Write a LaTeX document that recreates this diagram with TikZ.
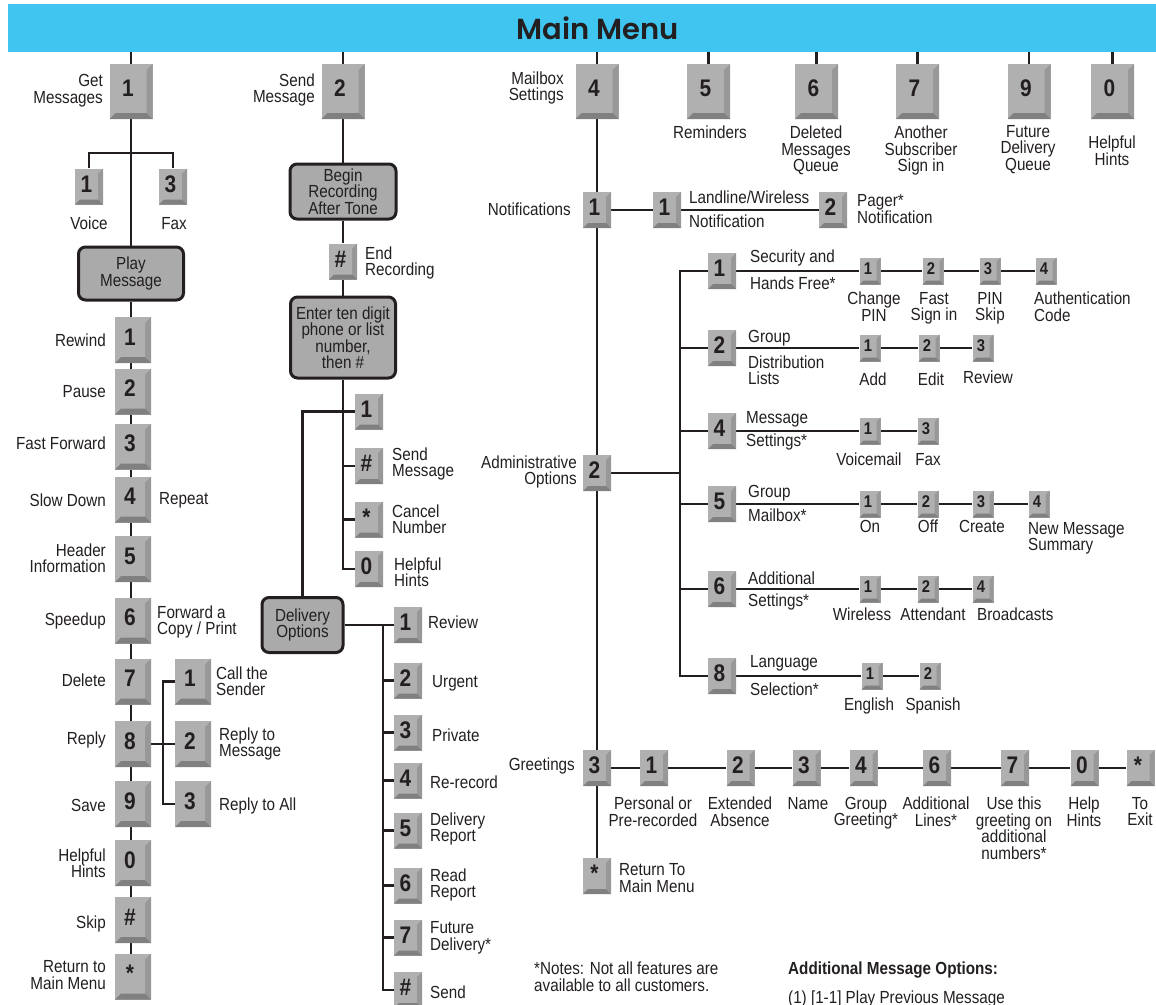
\documentclass[tikz,border=0pt]{standalone}
\usepackage{fontspec}
\setmainfont{Liberation Sans}[FakeStretch=0.87]
\newfontfamily\titlefont{Poppins}[BoldFont=Poppins SemiBold]
\usepackage{tikz}
\usetikzlibrary{backgrounds}

\definecolor{barblue}{RGB}{64,196,240}
\definecolor{ink}{RGB}{35,31,32}
\definecolor{keyface}{RGB}{176,176,176}
\definecolor{keyside}{RGB}{152,152,152}
\definecolor{keyshade}{RGB}{128,128,128}
\definecolor{boxfill}{RGB}{170,170,170}

\newcommand{\lblfont}{\fontsize{17.5}{16.5}\selectfont}
\newcommand{\digitfont}{\fontsize{24}{24}\selectfont\bfseries}
\newcommand{\smalldigitfont}{\fontsize{17}{17}\selectfont\bfseries}
\newcommand{\keydepth}{5pt}

\tikzset{
  keybase/.style={rectangle, inner sep=0pt, fill=keyface, text=ink,
    text depth=\keydepth, execute at begin node={\kern-\keydepth},
    path picture={
      \fill[keyside] (path picture bounding box.north east)
        -- (path picture bounding box.south east)
        -- ([shift={(-\keydepth,\keydepth)}]path picture bounding box.south east)
        -- ([shift={(-\keydepth,-\keydepth)}]path picture bounding box.north east) -- cycle;
      \fill[keyshade] (path picture bounding box.south west)
        -- (path picture bounding box.south east)
        -- ([shift={(-\keydepth,\keydepth)}]path picture bounding box.south east)
        -- ([shift={(\keydepth,\keydepth)}]path picture bounding box.south west) -- cycle;
    }},
  bigkey/.style={/utils/exec={\def\keydepth{6pt}}, keybase, font=\digitfont,
    minimum width=43, minimum height=55},
  midkey/.style={/utils/exec={\def\keydepth{6pt}}, keybase, font=\digitfont,
    minimum width=36, minimum height=46},
  key/.style={/utils/exec={\def\keydepth{5pt}}, keybase, font=\digitfont,
    minimum width=28, minimum height=36},
  smallkey/.style={/utils/exec={\def\keydepth{4pt}}, keybase, font=\smalldigitfont,
    minimum width=21, minimum height=27}
}

\begin{document}
\begin{tikzpicture}[x=1pt, y=-1pt,
    conn/.style={draw=ink, line width=2.6pt},
    lbl/.style={inner sep=0pt, font=\lblfont, text=ink, align=center},
    lblr/.style={lbl, anchor=east, align=right},
    lbll/.style={lbl, anchor=west, align=left},
    lblb/.style={lbl, anchor=north},
    menubox/.style={draw=ink, line width=3pt, rounded corners=7pt, fill=boxfill,
      inner sep=0pt, font=\lblfont, text=ink, align=center}]
  \useasboundingbox (0,0) rectangle (1156,1004);
  \clip (0,0) rectangle (1156,1004);

  % header bar
  \node[fill=barblue, inner sep=0pt, minimum width=1148, minimum height=48] (bar) at (582,28) {};
  \node[inner sep=0pt, text=ink, font=\titlefont\bfseries\fontsize{29}{29}\selectfont] (title) at (598,28) {Main Menu};

  % main menu keys
  \node[bigkey] (m1) at (131,91.5) {1};
  \node[bigkey] (m2) at (343,91.5) {2};
  \node[bigkey] (m4) at (597,91.5) {4};
  \node[bigkey] (m5) at (708.5,91.5) {5};
  \node[bigkey] (m6) at (816.5,91.5) {6};
  \node[bigkey] (m7) at (917.5,91.5) {7};
  \node[bigkey] (m9) at (1029,91.5) {9};
  \node[bigkey] (m0) at (1112.5,91.5) {0};

  \node[lblr] (lget) at (103,90.5) {Get\\Messages};
  \node[lblr] (lsend) at (315,90) {Send\\Message};
  \node[lblr] (lmbox) at (564,88) {Mailbox\\Settings};
  \node[lblb] (lrem) at (710,126) {Reminders};
  \node[lblb] (ldel) at (816,126) {Deleted\\Messages\\Queue};
  \node[lblb] (lanot) at (921,126) {Another\\Subscriber\\Sign in};
  \node[lblb] (lfut) at (1028,125) {Future\\Delivery\\Queue};
  \node[lblb] (lhint) at (1112,136) {Helpful\\Hints};

  % get messages
  \node[key] (v1) at (89,186.5) {1};
  \node[key] (v3) at (173,186.5) {3};
  \coordinate (vfork) at (131,153);
  \node[lblb] (lvoice) at (89,217) {Voice};
  \node[lblb] (lfax) at (174,217) {Fax};
  \node[menubox, minimum width=105, minimum height=53] (pbox) at (131,273.5) {Play\\Message};

  \foreach \k/\y [count=\i] in {1/340, 2/391.5, 3/446.5, 4/499.5, 5/559, 6/620.5,
      7/681.5, 8/744, 9/804, 0/863, \#/920, */976.5}
    \node[midkey] (p\i) at (133,\y) {\k};
  \foreach \t/\y [count=\i] in {Rewind/340, Pause/392, Fast Forward/443, Slow Down/500,
      {Header\\Information}/558, Speedup/621, Delete/680, Reply/740, Save/805,
      {Helpful\\Hints}/863, Skip/924, {Return to\\Main Menu}/975}
    \node[lblr] (lp\i) at (106,\y) {\t};
  \node[lbll] (lrep) at (159,500) {Repeat};
  \node[lbll] (lfwd) at (157,622) {Forward a\\Copy / Print};

  \node[midkey] (r1) at (193,681.5) {1};
  \node[midkey] (r2) at (193,744) {2};
  \node[midkey] (r3) at (193,804) {3};
  \coordinate (rbus) at (163,0);
  \node[lbll] (lr1) at (216,681) {Call the\\Sender};
  \node[lbll] (lr2) at (219,744) {Reply to\\Message};
  \node[lbll] (lr3) at (219,806) {Reply to All};

  % send message
  \node[menubox, minimum width=106, minimum height=55] (rec) at (343,191.5) {Begin\\Recording\\After Tone};
  \node[key] (endk) at (343,261.5) {\#};
  \node[lbll] (lend) at (365,263) {End\\Recording};
  \node[menubox, minimum width=105, minimum height=81] (ent) at (343,337.5) {Enter ten digit\\phone or list\\number,\\then \#};
  \node[key] (s1) at (369,411.5) {1};
  \node[key] (sh) at (369,466) {\#};
  \node[key] (ss) at (369,519.5) {*};
  \node[key] (s0) at (369,569) {0};
  \node[lbll] (lsh) at (392,464) {Send\\Message};
  \node[lbll] (lss) at (392,519) {Cancel\\Number};
  \node[lbll] (ls0) at (394,572) {Helpful\\Hints};

  \node[menubox, minimum width=81, minimum height=55] (dlv) at (302.5,625) {Delivery\\Options};
  \coordinate (dbus) at (383,0);
  \foreach \k/\y [count=\i] in {1/625, 2/680.5, 3/732.5, 4/780.5, 5/830.5, 6/885.5, 7/937.5, \#/990}
    \node[key] (d\i) at (408,\y) {\k};
  \foreach \t/\x/\y [count=\i] in {Review/428/622, Urgent/432/683, Private/432/735,
      Re-record/430/782, {Delivery\\Report}/430/829, {Read\\Report}/430/885,
      {Future\\Delivery*}/430/938, Send/430/992}
    \node[lbll] (ld\i) at (\x,\y) {\t};

  % mailbox settings: notifications
  \node[key] (n1) at (597,210) {1};
  \node[key] (nn1) at (667,210) {1};
  \node[key] (nn2) at (833,210) {2};
  \node[lblr] (lnot) at (571,209) {Notifications};
  \node[lbll] (lland) at (689,197) {Landline/Wireless};
  \node[lbll] (lnotif) at (689,221) {Notification};
  \node[lbll] (lpager) at (857,209) {Pager*\\Notification};

  % administrative options
  \node[key] (a2) at (597,473) {2};
  \node[lblr] (ladm) at (577,472) {Administrative\\Options};
  \coordinate (abus) at (680,0);
  \foreach \k/\y in {1/271, 2/348, 4/431, 5/504, 6/589, 8/676}
    \node[key] (ad\k) at (722,\y) {\k};
  \node[lbll] (la1a) at (750,258) {Security and};
  \node[lbll] (la1b) at (750,283) {Hands Free*};
  \node[lbll] (la2a) at (748,338) {Group};
  \node[lbll] (la2b) at (748,370) {Distribution\\Lists};
  \node[lbll] (la4a) at (746,419) {Message};
  \node[lbll] (la4b) at (746,442) {Settings*};
  \node[lbll] (la5a) at (748,493) {Group};
  \node[lbll] (la5b) at (748,515) {Mailbox*};
  \node[lbll] (la6a) at (748,578) {Additional};
  \node[lbll] (la6b) at (748,602) {Settings*};
  \node[lbll] (la8a) at (750,663) {Language};
  \node[lbll] (la8b) at (750,689) {Selection*};

  \foreach \k/\x in {1/870, 2/933, 3/990, 4/1046}
    \node[smallkey] (sa\k) at (\x,271) {\k};
  \foreach \k/\x in {1/870, 2/929, 3/983}
    \node[smallkey] (sb\k) at (\x,348) {\k};
  \foreach \k/\x in {1/870, 3/928}
    \node[smallkey] (sc\k) at (\x,431) {\k};
  \foreach \k/\x in {1/870, 2/928, 3/983, 4/1039}
    \node[smallkey] (sd\k) at (\x,504) {\k};
  \foreach \k/\x in {1/870, 2/928, 4/983}
    \node[smallkey] (se\k) at (\x,589) {\k};
  \foreach \k/\x in {1/872, 2/930}
    \node[smallkey] (sf\k) at (\x,676) {\k};

  \node[lblb] (lsa1) at (874,292) {Change\\PIN};
  \node[lblb] (lsa2) at (934,292) {Fast\\Sign in};
  \node[lblb] (lsa3) at (990,292) {PIN\\Skip};
  \node[lbl, anchor=north west, align=left] (lsa4) at (1034,292) {Authentication\\Code};
  \node[lblb] (lsb1) at (873,373) {Add};
  \node[lblb] (lsb2) at (931,373) {Edit};
  \node[lblb] (lsb3) at (988,371) {Review};
  \node[lblb] (lsc1) at (869,453) {Voicemail};
  \node[lblb] (lsc3) at (928,453) {Fax};
  \node[lblb] (lsd1) at (870,520) {On};
  \node[lblb] (lsd2) at (928,520) {Off};
  \node[lblb] (lsd3) at (982,520) {Create};
  \node[lbl, anchor=north west, align=left] (lsd4) at (1028,522) {New Message\\Summary};
  \node[lblb] (lse1) at (862,608) {Wireless};
  \node[lblb] (lse2) at (933,608) {Attendant};
  \node[lbl, anchor=north west] (lse4) at (977,608) {Broadcasts};
  \node[lblb] (lsf1) at (869,698) {English};
  \node[lblb] (lsf2) at (933,698) {Spanish};

  % greetings
  \node[key] (g3) at (597,768) {3};
  \node[lblr] (lgreet) at (575,766) {Greetings};
  \foreach \k/\x/\n in {1/654/1, 2/740.5/2, 3/806.5/3, 4/863.5/4, 6/937/6,
      7/1015/7, 0/1084.5/0, */1140.5/s}
    \node[key] (gr\n) at (\x,768) {\k};
  \foreach \t/\x [count=\i] in {{Personal or\\Pre-recorded}/653, {Extended\\Absence}/740,
      Name/808, {Group\\Greeting*}/866, {Additional\\Lines*}/936,
      {Use this\\greeting on\\additional\\numbers*}/1014, {Help\\Hints}/1084, {To\\Exit}/1140}
    \node[lblb] (lg\i) at (\x,797) {\t};
  \node[key] (gx) at (597,876) {*};
  \node[lbll] (lgx) at (619,878) {Return To\\Main Menu};

  % notes
  \node[lbl, anchor=north west, align=left] (notes) at (534,962) {*Notes: Not all features are\\available to all customers.};
  \node[lbl, anchor=north west, align=left, font=\lblfont\bfseries] (addopt) at (788,962) {Additional Message Options:};
  \node[lbl, anchor=north west, align=left] (opt1) at (788,991) {(1) [1-1] Play Previous Message};

  % connectors
  \begin{pgfonlayer}{background}
    \foreach \m in {m1,m2,m5,m6,m7,m9,m0}
      \draw[conn] (bar.south -| \m) -- (\m);
    \draw[conn] (bar.south -| m4) -- (gx);

    \draw[conn] (m1) -- (pbox);
    \draw[conn] (v1) |- (vfork) -| (v3);
    \draw[conn] (pbox) -- (pbox |- p12);
    \draw[conn] (p8) -- (r2);
    \draw[conn] (r1) -| (rbus |- r3) -- (r3);

    \draw[conn] (m2) -- (rec) -- (endk) -- (ent);
    \draw[conn] (ent) |- (s0);
    \foreach \s in {s1,sh,ss}
      \draw[conn] (ent |- \s) -- (\s);
    \draw[conn] (ent |- s1) -| (dlv);
    \draw[conn] (dlv) -- (d1);
    \draw[conn] (dbus |- d1) |- (d8);
    \foreach \i in {2,...,7}
      \draw[conn] (dbus |- d\i) -- (d\i);

    \draw[conn] (n1) -- (nn1) -- (nn2);
    \draw[conn] (a2) -- (abus |- a2);
    \draw[conn] (ad1) -| (abus |- ad8) -- (ad8);
    \foreach \k in {2,4,5,6}
      \draw[conn] (abus |- ad\k) -- (ad\k);
    \draw[conn] (ad1) -- (sa1) -- (sa2) -- (sa3) -- (sa4);
    \draw[conn] (ad2) -- (sb1) -- (sb2) -- (sb3);
    \draw[conn] (ad4) -- (sc1) -- (sc3);
    \draw[conn] (ad5) -- (sd1) -- (sd2) -- (sd3) -- (sd4);
    \draw[conn] (ad6) -- (se1) -- (se2) -- (se4);
    \draw[conn] (ad8) -- (sf1) -- (sf2);

    \draw[conn] (g3) -- (gr1) -- (gr2) -- (gr3) -- (gr4) -- (gr6) -- (gr7) -- (gr0) -- (grs);
  \end{pgfonlayer}
\end{tikzpicture}
\end{document}
